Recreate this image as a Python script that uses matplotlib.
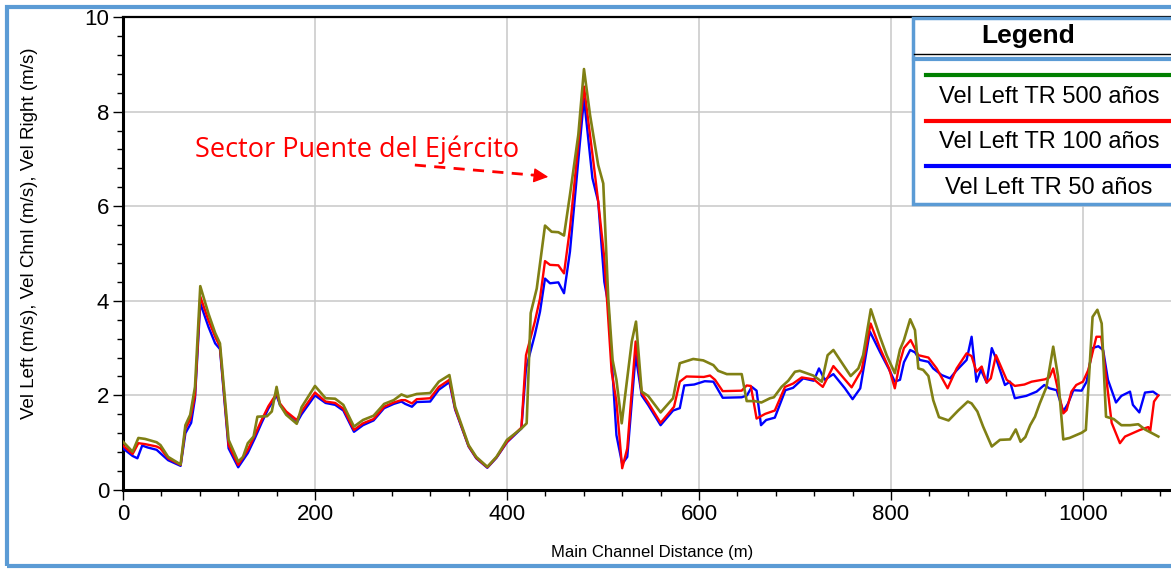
import matplotlib
matplotlib.use("Agg")
import matplotlib.pyplot as plt
from matplotlib.lines import Line2D
from matplotlib.patches import Rectangle
from matplotlib.ticker import MultipleLocator

# ---------- datos (HEC-RAS, perfil de velocidades) ----------
dist_500 = [0, 10, 16, 23, 35, 39, 47, 60, 65, 70,
            75, 80.5, 89, 96, 101, 110, 120, 125, 130, 136,
            140, 150, 155, 160, 163.5, 170, 181, 186, 200, 211,
            221, 229.5, 240.6, 250, 261, 272, 282, 290, 296, 306,
            320, 329, 340, 346, 360, 368, 379.5, 389, 400, 415,
            420.5, 424.7, 431, 439.6, 446.5, 453.5, 459.4, 465.6, 474.3, 480.2,
            486.5, 495, 500.3, 505.5, 510, 514, 519.5, 530, 534.4, 540.3,
            547, 560, 573, 580, 594, 604.5, 615, 620, 629, 644.5,
            649.7, 658, 665, 674, 678, 686, 693, 700, 705, 719,
            728, 734, 740, 758, 766, 771, 779, 788.5, 795.5, 804,
            809.4, 813.5, 820, 825, 828.5, 833.5, 839, 844, 850, 860,
            870, 880, 884, 890, 896, 905, 913.5, 924, 930, 935,
            940, 945, 950, 955, 962, 969, 974, 979.5, 986, 998.6,
            1003, 1010, 1015, 1019.5, 1024, 1032, 1040, 1049, 1057.6, 1064.6,
            1078.5]
vel_500 = [1.02, 0.81, 1.10, 1.08, 1.01, 0.95, 0.70, 0.54, 1.37, 1.59,
           2.18, 4.31, 3.73, 3.32, 3.10, 1.06, 0.60, 0.70, 0.99, 1.13,
           1.55, 1.56, 1.66, 2.18, 1.80, 1.59, 1.40, 1.75, 2.20, 1.94,
           1.93, 1.80, 1.34, 1.48, 1.57, 1.82, 1.90, 2.02, 1.97, 2.03,
           2.05, 2.29, 2.43, 1.76, 0.95, 0.70, 0.49, 0.70, 1.06, 1.30,
           1.41, 3.74, 4.26, 5.59, 5.46, 5.45, 5.38, 6.24, 7.51, 8.90,
           7.93, 6.87, 6.48, 4.05, 2.75, 2.33, 1.41, 3.14, 3.56, 2.08,
           1.99, 1.64, 1.94, 2.68, 2.77, 2.74, 2.64, 2.52, 2.45, 2.45,
           1.88, 1.88, 1.85, 1.94, 1.96, 2.18, 2.31, 2.50, 2.52, 2.42,
           2.29, 2.85, 2.96, 2.41, 2.57, 2.85, 3.82, 3.24, 2.85, 2.47,
           2.97, 3.17, 3.61, 3.38, 2.57, 2.54, 2.41, 1.90, 1.54, 1.47,
           1.68, 1.87, 1.83, 1.66, 1.34, 0.92, 1.06, 1.07, 1.28, 1.02,
           1.12, 1.37, 1.55, 1.83, 2.18, 3.03, 2.40, 1.07, 1.10, 1.21,
           1.27, 3.66, 3.81, 3.52, 1.55, 1.50, 1.37, 1.37, 1.39, 1.28,
           1.13]

dist_100 = [0, 10, 16, 23, 35, 39, 47, 60, 65, 70,
            75, 80.5, 89, 96, 101, 110, 120, 130, 137.5, 144.4,
            151.4, 160, 163.5, 170, 181, 186, 200, 211, 221, 229.5,
            240.6, 250, 261, 272, 282, 290, 294, 301, 306, 320,
            329, 340, 346, 360, 368, 379.5, 389, 400, 415, 419.8,
            429, 434.4, 439.6, 444.8, 453.5, 459.4, 465.6, 480.2, 490, 495,
            501.4, 509, 514, 520, 525.3, 534, 540.3, 547, 560, 574,
            580, 587, 605, 611.5, 616.7, 624.7, 644.5, 649.7, 654, 660,
            669, 679, 689.6, 698, 707, 719.5, 729, 740, 759, 769.5,
            778.8, 788.5, 798, 804, 809.4, 813.5, 820.5, 828.5, 835, 839,
            847.6, 859, 868.4, 878.8, 884, 889, 894.5, 899.7, 904, 909.4,
            920.5, 929, 939, 946.5, 960.4, 965, 969, 979.5, 983, 988,
            993, 1000, 1005.6, 1014, 1019, 1029.9, 1038.5, 1043.8, 1059.4, 1068,
            1070, 1074, 1078.5]
vel_100 = [0.94, 0.76, 0.99, 0.97, 0.92, 0.88, 0.67, 0.53, 1.30, 1.49,
           2.00, 4.09, 3.59, 3.24, 3.03, 0.95, 0.53, 0.85, 1.17, 1.48,
           1.77, 2.04, 1.83, 1.66, 1.48, 1.66, 2.06, 1.87, 1.84, 1.72,
           1.27, 1.41, 1.50, 1.76, 1.85, 1.90, 1.90, 1.83, 1.92, 1.94,
           2.18, 2.33, 1.72, 0.93, 0.68, 0.48, 0.69, 1.02, 1.32, 2.85,
           3.56, 4.05, 4.84, 4.76, 4.75, 4.58, 5.53, 8.53, 6.94, 6.10,
           4.90, 2.50, 1.87, 0.46, 0.88, 3.14, 2.05, 1.85, 1.42, 1.76,
           2.29, 2.40, 2.39, 2.42, 2.33, 2.09, 2.10, 2.21, 2.20, 1.51,
           1.61, 1.68, 2.18, 2.25, 2.38, 2.34, 2.18, 2.62, 2.17, 2.54,
           3.52, 3.00, 2.57, 2.15, 2.71, 3.00, 3.17, 2.85, 2.82, 2.80,
           2.57, 2.15, 2.57, 2.89, 2.83, 2.50, 2.61, 2.27, 2.36, 2.85,
           2.33, 2.20, 2.23, 2.29, 2.34, 2.38, 2.57, 1.62, 1.69, 2.08,
           2.22, 2.29, 2.54, 3.24, 3.24, 1.42, 0.99, 1.13, 1.27, 1.33,
           1.24, 1.87, 2.00]

dist_50 = [0, 10, 15, 20, 25.5, 35, 47, 60, 65, 71,
           75, 80.5, 89, 96, 101, 110, 120, 130, 137.5, 144.4,
           151.4, 160, 163.5, 170, 181, 186, 200, 211, 221, 229.5,
           240.6, 250, 261, 272, 282, 290, 294, 301, 306, 320,
           329, 340, 346, 360, 368, 379.5, 389, 400, 415, 419.8,
           429, 434.4, 439.6, 444.8, 453.5, 459.4, 465.6, 480.2, 489, 495,
           501.4, 505.5, 514, 520, 525.3, 534, 540.3, 547, 560, 573,
           580, 584.7, 595, 606, 615, 624.7, 644.5, 650, 655, 660,
           664.6, 670, 679, 690, 698, 708.6, 719.5, 725, 731, 740,
           752, 760, 768, 778, 788.5, 798, 804, 809.4, 813.5, 820,
           825, 830, 839, 844, 852.8, 861.5, 868.4, 878.8, 884, 889,
           893.7, 899.7, 905, 910, 918.7, 924, 929, 941, 951.7, 959.7,
           965, 972.6, 979.5, 984.5, 990, 998.6, 1003.8, 1010, 1016, 1021,
           1026, 1034.4, 1040, 1049, 1052, 1058.7, 1064.6, 1073, 1078.5]
vel_50 = [0.88, 0.72, 0.67, 0.94, 0.90, 0.85, 0.63, 0.51, 1.20, 1.42,
          1.94, 3.95, 3.45, 3.10, 2.98, 0.88, 0.48, 0.78, 1.10, 1.42,
          1.72, 2.00, 1.80, 1.62, 1.42, 1.60, 2.00, 1.84, 1.80, 1.68,
          1.23, 1.37, 1.47, 1.73, 1.82, 1.87, 1.82, 1.76, 1.86, 1.87,
          2.12, 2.28, 1.70, 0.92, 0.67, 0.47, 0.68, 1.01, 1.30, 2.57,
          3.28, 3.77, 4.47, 4.37, 4.39, 4.16, 5.04, 8.28, 6.59, 6.10,
          4.40, 3.93, 1.16, 0.55, 0.70, 2.85, 2.00, 1.80, 1.37, 1.68,
          1.73, 2.21, 2.23, 2.30, 2.29, 1.95, 1.96, 2.00, 2.18, 2.10,
          1.37, 1.48, 1.53, 2.11, 2.16, 2.36, 2.31, 2.57, 2.33, 2.45,
          2.15, 1.92, 2.15, 3.35, 2.92, 2.55, 2.29, 2.33, 2.70, 2.96,
          2.91, 2.75, 2.71, 2.57, 2.43, 2.36, 2.53, 2.75, 3.24, 2.29,
          2.54, 2.27, 3.00, 2.75, 2.22, 2.29, 1.94, 1.99, 2.08, 2.22,
          2.15, 2.11, 1.66, 1.83, 2.11, 2.10, 2.29, 3.00, 3.04, 2.96,
          2.33, 1.85, 1.99, 2.08, 1.80, 1.64, 2.06, 2.08, 2.00]

legend_labels = ["Vel Left TR 500 años", "Vel Left TR 100 años", "Vel Left TR 50 años"]
legend_colors = ["#008000", "#ff0000", "#0000ff"]

W, H = 1171, 569


def fx(px):
    return px / W


def fy(py):
    return 1 - py / H


plt.rcParams['font.family'] = ['Liberation Sans', 'DejaVu Sans']
fig = plt.figure(figsize=(W / 100, H / 100), dpi=100)
ax = fig.add_axes([fx(123), fy(490), fx(W) - fx(123), fy(17) - fy(490)])

ax.plot(dist_50, vel_50, color="#0000ff", lw=1.7, zorder=3)
ax.plot(dist_100, vel_100, color="#ff0000", lw=1.7, zorder=4)
ax.plot(dist_500, vel_500, color="#808014", lw=1.9, zorder=5)

ax.set_xlim(0, 1091.7)
ax.set_ylim(0, 10)
ax.xaxis.set_major_locator(MultipleLocator(200))
ax.xaxis.set_minor_locator(MultipleLocator(40))
ax.yaxis.set_major_locator(MultipleLocator(2))
ax.yaxis.set_minor_locator(MultipleLocator(0.4))
ax.grid(True, which="major", color="#c8c8c8", lw=1.1)
ax.set_axisbelow(True)
ax.tick_params(which="major", labelsize=16, length=7, width=1, pad=3, colors="black")
ax.tick_params(which="minor", length=4, width=1)
for s in ["left", "bottom"]:
    ax.spines[s].set_linewidth(2.2)
ax.spines["top"].set_linewidth(1.6)
ax.spines["right"].set_visible(False)

# etiquetas de ejes
fig.text(fx(30), fy(233), "Vel Left (m/s), Vel Chnl (m/s), Vel Right (m/s)",
         rotation=90, ha="center", va="center", fontsize=13.5)
fig.text(fx(652), fy(552), "Main Channel Distance (m)", ha="center", va="center", fontsize=12)

# anotacion del sector
ax.text(244, 7.19, "Sector Puente del Ejército", color="red", fontsize=19.5,
        family=["Open Sans", "DejaVu Sans"], ha="center", va="center")
ax.plot([304, 432], [6.87, 6.65], color="red", lw=2, ls=(0, (4, 3)))
ax.annotate("", xy=(443, 6.62), xytext=(425, 6.66),
            arrowprops=dict(arrowstyle="-|>,head_length=0.9,head_width=0.45",
                            color="red", lw=1, shrinkA=0, shrinkB=0))

# leyenda dibujada a mano (estilo HEC-RAS)
fig.patches.append(Rectangle((fx(913), fy(204)), fx(300), fy(18) - fy(204),
                             transform=fig.transFigure, facecolor="white",
                             edgecolor="#5b9bd5", lw=2.5, zorder=5))
fig.lines.append(Line2D([fx(914), fx(W)], [fy(54), fy(54)], transform=fig.transFigure,
                        color="black", lw=1, zorder=6))
fig.lines.append(Line2D([fx(914), fx(W)], [fy(59), fy(59)], transform=fig.transFigure,
                        color="#5b9bd5", lw=3, zorder=6))
fig.text(fx(1028), fy(36), "Legend", ha="center", va="center", fontsize=19,
         fontweight="bold", zorder=7)
for i, (lab, col) in enumerate(zip(legend_labels, legend_colors)):
    ly = 75 + i * 45.5
    fig.lines.append(Line2D([fx(926), fx(W)], [fy(ly), fy(ly)], transform=fig.transFigure,
                            color=col, lw=3, zorder=6))
    fig.text(fx(1049), fy(ly + 22), lab, ha="center", va="center", fontsize=17, zorder=7)

# marco exterior azul
fig.patches.append(Rectangle((fx(7), fy(566)), fx(1180), fy(7) - fy(566),
                             transform=fig.transFigure, fill=False,
                             edgecolor="#5b9bd5", lw=3, zorder=8))

fig.savefig("out.png", dpi=100)
